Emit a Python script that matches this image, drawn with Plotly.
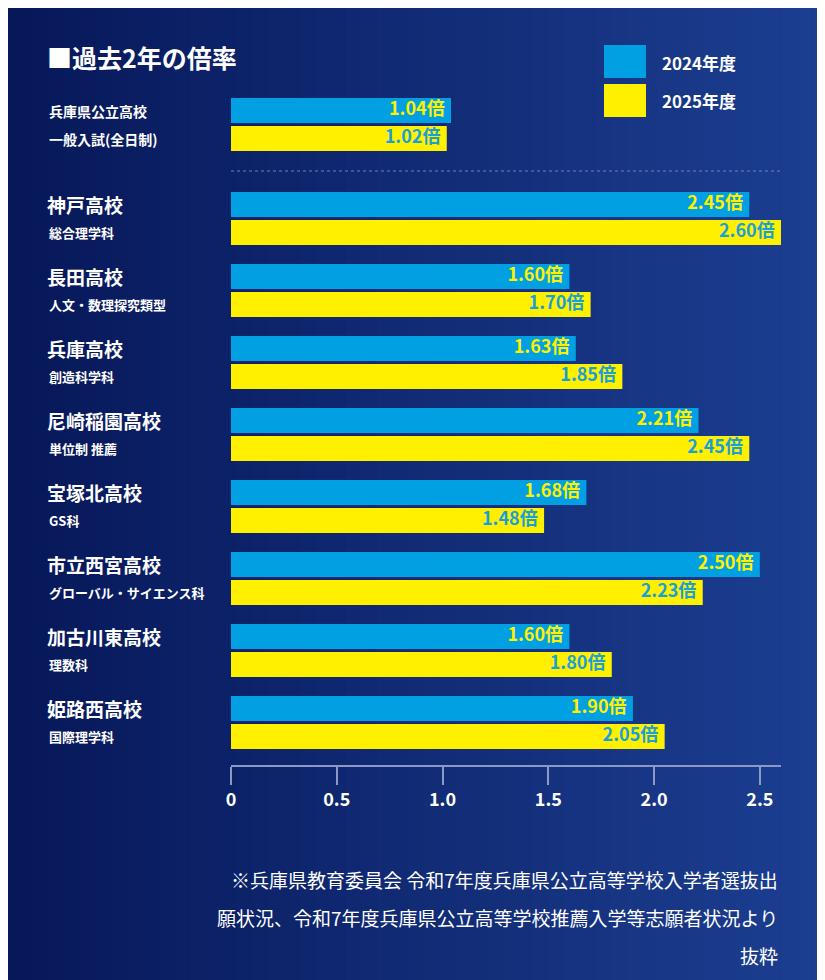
import plotly.graph_objects as go

schools = ["神戸高校", "長田高校", "兵庫高校", "尼崎稲園高校", "宝塚北高校", "市立西宮高校", "加古川東高校", "姫路西高校"]
courses = ["総合理学科", "人文・数理探究類型", "創造科学科", "単位制 推薦", "GS科", "グローバル・サイエンス科", "理数科", "国際理学科"]
v2024 = [2.45, 1.60, 1.63, 2.21, 1.68, 2.50, 1.60, 1.90]
v2025 = [2.60, 1.70, 1.85, 2.45, 1.48, 2.23, 1.80, 2.05]
gen_label = ["兵庫県公立高校", "一般入試(全日制)"]
gen2024, gen2025 = 1.04, 1.02
ticks = [0, 0.5, 1.0, 1.5, 2.0, 2.5]

BLUE = "#00A0E2"
YEL = "#FFF000"
FONT = "Noto Sans CJK JP"

yb = [110.5] + [204.5 + 72 * g for g in range(len(schools))]
yy = [y + 28 for y in yb]
x24 = [gen2024] + v2024
x25 = [gen2025] + v2025

fig = go.Figure()
fig.add_bar(x=x24, y=yb, orientation="h", width=25, marker=dict(color=BLUE, line=dict(width=0)), textposition="none")
fig.add_bar(x=x25, y=yy, orientation="h", width=25, marker=dict(color=YEL, line=dict(width=0)), textposition="none")
fig.add_scatter(x=[v - 0.03 for v in x24], y=yb, mode="text", text=[f"<b>{v:.2f}倍</b>" for v in x24],
                textposition="middle left", textfont=dict(color=YEL, size=18, family=FONT), cliponaxis=False)
fig.add_scatter(x=[v - 0.03 for v in x25], y=yy, mode="text", text=[f"<b>{v:.2f}倍</b>" for v in x25],
                textposition="middle left", textfont=dict(color="#1A9FD8", size=18, family=FONT), cliponaxis=False)

shapes = []
n = 60
for i in range(n):
    t = i / (n - 1)
    r = int(6 + (30 - 6) * t); g = int(22 + (66 - 22) * t); b = int(86 + (150 - 86) * t)
    shapes.append(dict(type="rect", xref="paper", yref="paper", x0=-0.5 + i * 1.7 / n, x1=-0.5 + (i + 1.05) * 1.7 / n,
                       y0=-0.5, y1=1.5, fillcolor=f"rgb({r},{g},{b})", line=dict(width=0), layer="below"))
shapes.append(dict(type="line", xref="x", yref="y", x0=0, x1=2.6, y0=171, y1=171,
                   line=dict(color="#6f82b8", width=1, dash="dot")))

def px(x): return (x - 231) / (781 - 231)
def py(y): return (765 - y) / (765 - 90)
shapes.append(dict(type="rect", xref="paper", yref="paper", x0=px(604), x1=px(646), y0=py(78), y1=py(45), fillcolor=BLUE, line=dict(width=0)))
shapes.append(dict(type="rect", xref="paper", yref="paper", x0=px(604), x1=px(646), y0=py(117), y1=py(84), fillcolor=YEL, line=dict(width=0)))

ann = []
def A(x, y, text, size, xa="left", bold=True):
    ann.append(dict(xref="paper", yref="paper", x=px(x), y=py(y), text=f"<b>{text}</b>" if bold else text,
                    showarrow=False, xanchor=xa, yanchor="middle", font=dict(color="white", size=size, family=FONT)))
A(45, 57, "■過去2年の倍率", 25)
A(660, 62, "2024年度", 17)
A(660, 101, "2025年度", 17)
A(47, yb[0], gen_label[0], 14)
A(47, yy[0], gen_label[1], 14)
for i in range(len(schools)):
    A(45, yb[i + 1], schools[i], 19)
    A(47, yy[i + 1], courses[i], 13)
A(780, 880, "※兵庫県教育委員会 令和7年度兵庫県公立高等学校入学者選抜出", 19, "right", False)
A(780, 918, "願状況、令和7年度兵庫県公立高等学校推薦入学等志願者状況より", 19, "right", False)
A(780, 955, "抜粋", 19, "right", False)

fig.update_layout(
    width=817, height=972, margin=dict(l=223, r=44, t=82, b=215),
    paper_bgcolor="#0a1f62", plot_bgcolor="rgba(0,0,0,0)", showlegend=False,
    barmode="overlay", shapes=shapes, annotations=ann, font=dict(family=FONT),
    xaxis=dict(range=[0, 2.6], tickvals=ticks, ticktext=["<b>0</b>", "<b>0.5</b>", "<b>1.0</b>", "<b>1.5</b>", "<b>2.0</b>", "<b>2.5</b>"],
               showgrid=False, zeroline=False, showline=True, linecolor="#8a9ac4", linewidth=1.5,
               ticks="outside", ticklen=18, tickcolor="#8a9ac4", tickwidth=1.5,
               tickfont=dict(color="white", size=18, family=FONT), fixedrange=True),
    yaxis=dict(range=[765, 90], showgrid=False, zeroline=False, showticklabels=False, visible=False),
)
fig.write_html("out.html")
